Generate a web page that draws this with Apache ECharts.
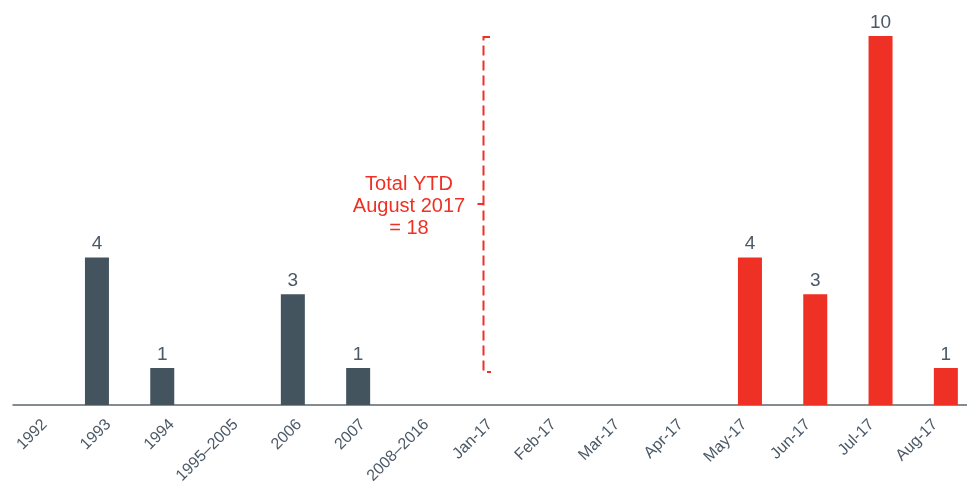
<!DOCTYPE html>
<html>
<head>
<meta charset="utf-8">
<script src="https://cdn.jsdelivr.net/npm/echarts@6/dist/echarts.min.js"></script>
<style>
  html, body { margin: 0; padding: 0; background: #fff; }
  #chart { width: 967px; height: 485px; }
</style>
</head>
<body>
<div id="chart"></div>
<script>
// categories along the axis
const categories = ['1992', '1993', '1994', '1995–2005', '2006', '2007', '2008–2016',
  'Jan-17', 'Feb-17', 'Mar-17', 'Apr-17', 'May-17', 'Jun-17', 'Jul-17', 'Aug-17']
// counts per period (history vs 2017 year to date)
const historyValues = [0, 4, 1, 0, 3, 1, 0, null, null, null, null, null, null, null, null]
const ytdValues = [null, null, null, null, null, null, null, 0, 0, 0, 0, 4, 3, 10, 1]

const DARK = '#44545f'
const RED = '#ee3124'
const TEXT = '#4b5966'
const FONT = 'Liberation Sans, Arial, sans-serif'

const chart = echarts.init(document.getElementById('chart'))

const valueLabel = {
  show: true,
  position: 'top',
  distance: 4,
  color: TEXT,
  fontSize: 19,
  fontFamily: FONT,
  formatter: p => (p.value ? p.value : '')
}

const option = {
  animation: false,
  grid: [
    // bars (slightly wider than the visible axis line)
    { left: -1, width: 979.5, top: 36, bottom: 80, outerBoundsMode: 'none', containLabel: false },
    // axis line + tick labels
    { left: 13, right: 0, top: 36, bottom: 80, outerBoundsMode: 'none', containLabel: false }
  ],
  xAxis: [
    {
      gridIndex: 0, type: 'category', data: categories,
      axisLine: { show: false }, axisTick: { show: false }, axisLabel: { show: false }
    },
    {
      gridIndex: 1, type: 'category', data: categories,
      axisLine: { show: true, lineStyle: { color: '#5b6770', width: 1.5 } },
      axisTick: { show: false },
      axisLabel: {
        interval: 0, rotate: 45, margin: 17,
        color: TEXT, fontSize: 16, fontFamily: FONT
      }
    }
  ],
  yAxis: [
    { gridIndex: 0, type: 'value', min: 0, max: 10, show: false },
    { gridIndex: 1, type: 'value', min: 0, max: 10, show: false }
  ],
  series: [
    {
      type: 'bar', xAxisIndex: 0, yAxisIndex: 0, stack: 'all',
      barWidth: 24, data: historyValues,
      itemStyle: { color: DARK }, label: valueLabel
    },
    {
      type: 'bar', xAxisIndex: 0, yAxisIndex: 0, stack: 'all',
      barWidth: 24, data: ytdValues,
      itemStyle: { color: RED }, label: valueLabel
    }
  ],
  graphic: [
    // dashed bracket around the 2017 months
    {
      type: 'polyline',
      shape: { points: [[490, 37], [483.5, 37], [483.5, 372], [491, 372]] },
      style: { fill: null, stroke: RED, lineWidth: 2, lineDash: [10, 5] }
    },
    {
      type: 'line',
      shape: { x1: 477.5, y1: 204, x2: 483.5, y2: 204 },
      style: { stroke: RED, lineWidth: 2 }
    },
    {
      type: 'text',
      x: 409, y: 206,
      style: {
        text: 'Total YTD\nAugust 2017\n= 18',
        fill: RED, font: '20px ' + FONT, lineHeight: 22,
        textAlign: 'center', textVerticalAlign: 'middle'
      }
    }
  ]
}

chart.setOption(option)
</script>
</body>
</html>
